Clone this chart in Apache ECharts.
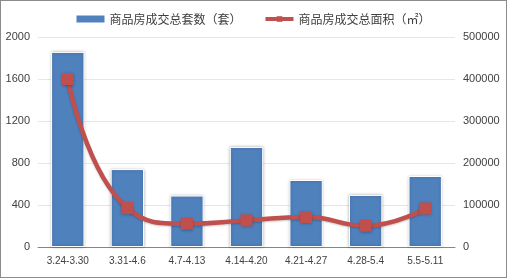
<!DOCTYPE html>
<html><head><meta charset="utf-8">
<script src="https://cdn.jsdelivr.net/npm/echarts@6/dist/echarts.min.js"></script>
<style>html,body{margin:0;padding:0;background:#fff}#c{width:505px;height:276px;border:1px solid #8c8c8c}</style>
</head><body><div id="c"></div>
<script>
const categories = ['3.24-3.30','3.31-4.6','4.7-4.13','4.14-4.20','4.21-4.27','4.28-5.4','5.5-5.11'];
const unitsSold = [1858, 742, 490, 953, 638, 496, 676];
const areaSold = [400000, 92700, 55600, 63400, 71400, 50800, 91700];
const leftTicks = [0, 2000, 400];
const rightTicks = [0, 500000, 100000];
const seriesNames = ['商品房成交总套数（套）', '商品房成交总面积（㎡）'];

const font = '"Noto Sans CJK SC", sans-serif';
const numFont = '"Liberation Sans", Arial, sans-serif';
const chart = echarts.init(document.getElementById('c'));
chart.setOption({
  animation: false,
  legend: {
    top: 7, left: 'center', itemGap: 22,
    textStyle: {fontSize: 12, color: '#404040', fontFamily: font},
    data: [
      {name: seriesNames[0], icon: 'rect', itemStyle: {borderWidth: 0, shadowBlur: 0}},
      {name: seriesNames[1], lineStyle: {width: 4}, itemStyle: {shadowBlur: 0}}
    ],
    itemWidth: 28, itemHeight: 7
  },
  grid: {left: 37, right: 51, top: 36, bottom: 30},
  xAxis: {
    type: 'category', data: categories,
    axisLine: {lineStyle: {color: '#868686'}},
    axisTick: {show: false},
    axisLabel: {interval: 0, fontSize: 10, color: '#404040', fontFamily: numFont, margin: 9}
  },
  yAxis: [
    {type: 'value', min: leftTicks[0], max: leftTicks[1], interval: leftTicks[2],
     axisLine: {show: false}, axisTick: {show: false},
     splitLine: {lineStyle: {color: '#e6e6e6'}},
     axisLabel: {fontSize: 11, color: '#404040', fontFamily: numFont, margin: 8, formatter: v => String(v)}},
    {type: 'value', min: rightTicks[0], max: rightTicks[1], interval: rightTicks[2],
     axisLine: {show: false}, axisTick: {show: false}, splitLine: {show: false},
     axisLabel: {fontSize: 11, color: '#404040', fontFamily: numFont, margin: 8, formatter: v => String(v)}}
  ],
  series: [
    {name: seriesNames[0], type: 'bar', data: unitsSold, barWidth: '56%',
     itemStyle: {color: '#4f81bd', borderColor: '#fff', borderWidth: 1,
       shadowColor: 'rgba(0,0,0,0.25)', shadowBlur: 3}},
    {name: seriesNames[1], type: 'line', yAxisIndex: 1, data: areaSold, smooth: 0.5,
     symbol: 'rect', symbolSize: 12,
     lineStyle: {color: '#c0504d', width: 4.5, shadowColor:'rgba(0,0,0,0.2)', shadowBlur:2, shadowOffsetY:1},
     itemStyle: {color: '#c0504d', shadowColor:'rgba(0,0,0,0.3)', shadowBlur:3, shadowOffsetY:1}}
  ]
});
</script></body></html>
